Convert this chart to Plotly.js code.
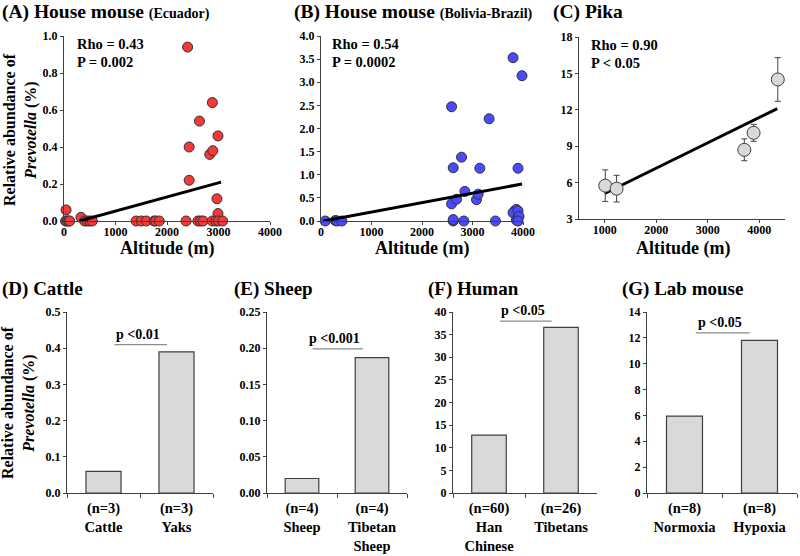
<!DOCTYPE html>
<html>
<head>
<meta charset="utf-8">
<script src="https://cdn.plot.ly/plotly-3.0.1.min.js"></script>
<style>html,body{margin:0;padding:0;background:#fff;}#chart{width:800px;height:556px;}</style>
</head>
<body>
<div id="chart"></div>
<script>
// ---------- Panel A: House mouse (Ecuador) ----------
const ecuadorAlt = [40, 30, 60, 90, 110, 330, 400, 450, 500, 550, 1400, 1500, 1600, 1750, 1780, 1850,
  2370, 2400, 2430, 2430, 2600, 2650, 2700, 2630, 2880, 2830, 2890, 2990, 2970, 2990, 2880, 2950, 3000, 3080];
const ecuadorVal = [0.06, 0, 0, 0, 0, 0.02, 0, 0, 0, 0, 0, 0, 0, 0, 0, 0,
  0, 0.94, 0.40, 0.22, 0, 0, 0, 0.54, 0.64, 0.36, 0.38, 0.46, 0.12, 0.04, 0, 0, 0, 0];
const fitAx = [300, 3050];
const fitAy = [0.0, 0.21];

// ---------- Panel B: House mouse (Bolivia-Brazil) ----------
const boliviaAlt = [85, 283, 316, 414, 2586, 2618, 2586, 2618, 2618, 2684, 2783, 2849, 2829, 3145, 3079, 3112,
  3329, 3454, 3803, 3980, 3901, 3836, 3868, 3803, 3868, 3901, 3901, 3921, 3901];
const boliviaVal = [0, 0.01, 0, 0, 2.47, 1.15, 0.37, 0, 0.03, 0.47, 1.38, 0.64, 0, 1.14, 0.46, 0.58,
  2.21, 0, 3.53, 3.14, 1.14, 0.22, 0.25, 0.18, 0.02, 0.22, 0.08, 0.10, 0];
const fitBx = [50, 3980];
const fitBy = [0.0, 0.80];

// ---------- Panel C: Pika ----------
const pikaAlt = [1010, 1230, 3710, 3890, 4360];
const pikaVal = [5.75, 5.5, 8.7, 10.1, 14.5];
const pikaErr = [1.3, 1.1, 0.9, 0.7, 1.8];
const fitCx = [1000, 4350];
const fitCy = [5.1, 12.1];

// ---------- Bar panels ----------
const cattleCats = ["Cattle", "Yaks"];
const cattleN = ["(n=3)", "(n=3)"];
const cattleLbl = ["Cattle", "Yaks"];
const cattleVal = [0.06, 0.39];

const sheepCats = ["Sheep", "Tibetan Sheep"];
const sheepN = ["(n=4)", "(n=4)"];
const sheepLbl = ["Sheep", "Tibetan<br>Sheep"];
const sheepVal = [0.02, 0.187];

const humanCats = ["Han Chinese", "Tibetans"];
const humanN = ["(n=60)", "(n=26)"];
const humanLbl = ["Han<br>Chinese", "Tibetans"];
const humanVal = [12.8, 36.6];

const labCats = ["Normoxia", "Hypoxia"];
const labN = ["(n=8)", "(n=8)"];
const labLbl = ["Normoxia", "Hypoxia"];
const labVal = [5.95, 11.8];

const sigText = ["p <0.01", "p <0.001", "p <0.05", "p <0.05"];
const sigLevel = [0.41, 0.199, 38.0, 12.38];

// ---------- helpers ----------
const W = 800, H = 556;
const FONT = "'Liberation Serif', 'Times New Roman', Times, serif";
const AX = "#404040";
const px = v => v / W;
const py = v => 1 - v / H;

function axBase(extra) {
  return Object.assign({
    showline: true, linecolor: AX, linewidth: 1, ticks: "outside", ticklen: 3,
    tickcolor: AX, tickwidth: 1, showgrid: false, zeroline: false,
    tickfont: {family: FONT, size: 12, color: "#000", weight: "bold"},
    fixedrange: true
  }, extra);
}

const traces = [];
const markerLine = {color: "#333", width: 1};

traces.push({type: "scatter", mode: "markers", x: ecuadorAlt, y: ecuadorVal, xaxis: "x", yaxis: "y",
  marker: {size: 10, color: "#f23a3a", line: markerLine}, cliponaxis: false});
traces.push({type: "scatter", mode: "lines", x: fitAx, y: fitAy, xaxis: "x", yaxis: "y",
  line: {color: "#000", width: 3}, cliponaxis: false});

traces.push({type: "scatter", mode: "markers", x: boliviaAlt, y: boliviaVal, xaxis: "x2", yaxis: "y2",
  marker: {size: 10, color: "#4a4aff", line: markerLine}, cliponaxis: false});
traces.push({type: "scatter", mode: "lines", x: fitBx, y: fitBy, xaxis: "x2", yaxis: "y2",
  line: {color: "#000", width: 3}, cliponaxis: false});

traces.push({type: "scatter", mode: "lines", x: fitCx, y: fitCy, xaxis: "x3", yaxis: "y3",
  line: {color: "#000", width: 3}, cliponaxis: false});
traces.push({type: "scatter", mode: "markers", x: pikaAlt, y: pikaVal, xaxis: "x3", yaxis: "y3",
  error_y: {type: "data", array: pikaErr, visible: true, color: "#404040", thickness: 1, width: 3},
  marker: {size: 13, color: "#d9d9d9", line: {color: "#404040", width: 1}}, cliponaxis: false});

const barSets = [
  [cattleCats, cattleVal, cattleN, cattleLbl],
  [sheepCats, sheepVal, sheepN, sheepLbl],
  [humanCats, humanVal, humanN, humanLbl],
  [labCats, labVal, labN, labLbl]
];
barSets.forEach((s, i) => {
  const k = i + 4;
  traces.push({type: "bar", x: s[0], y: s[1], xaxis: "x" + k, yaxis: "y" + k, width: 0.48,
    marker: {color: "#d9d9d9", line: {color: "#404040", width: 1.2}}});
});

const layout = {
  width: W, height: H, margin: {l: 0, r: 0, t: 0, b: 0},
  paper_bgcolor: "#fff", plot_bgcolor: "rgba(0,0,0,0)",
  showlegend: false, font: {family: FONT, color: "#000"},
  xaxis: axBase({domain: [px(64), px(270)], range: [0, 4000], dtick: 1000, anchor: "y", ticklabelstandoff: -3}),
  yaxis: axBase({domain: [py(221), py(36)], range: [0, 1.0], dtick: 0.2, tickformat: ".1f", anchor: "x"}),
  xaxis2: axBase({domain: [px(321), px(523)], range: [0, 4000], dtick: 1000, anchor: "y2", ticklabelstandoff: -3}),
  yaxis2: axBase({domain: [py(221), py(36)], range: [0, 4.0], dtick: 0.5, tickformat: ".1f", anchor: "x2"}),
  xaxis3: axBase({domain: [px(579), px(785)], range: [500, 4500], dtick: 1000, anchor: "y3", ticklabelstandoff: -3}),
  yaxis3: axBase({domain: [py(219), py(37)], range: [3, 18], dtick: 3, anchor: "x3"}),
  annotations: [], shapes: []
};

const barDomains = [[67, 213], [267, 407], [453, 597], [647, 797]];
const barRanges = [[0, 0.5, 0.1, ".1f"], [0, 0.25, 0.05, ".2f"], [0, 40, 5, "d"], [0, 14, 2, "d"]];
barSets.forEach((s, i) => {
  const k = i + 4;
  layout["xaxis" + k] = axBase({domain: [px(barDomains[i][0]), px(barDomains[i][1])], anchor: "y" + k,
    type: "category", range: [-0.5, 1.5], tickson: "boundaries", ticklen: 4, tickangle: 0,
    ticklabelstandoff: 2,
    tickvals: s[0], ticktext: s[0].map((c, j) => s[2][j] + "<br>" + s[3][j]),
    tickfont: {family: FONT, size: 14.5, color: "#000", weight: "bold"}});
  layout["yaxis" + k] = axBase({domain: [py(493), py(312)], anchor: "x" + k,
    range: [barRanges[i][0], barRanges[i][1]], dtick: barRanges[i][2], tickformat: barRanges[i][3]});
  layout.shapes.push({type: "line", xref: "x" + k, yref: "y" + k, x0: 0.15, x1: 0.87,
    y0: sigLevel[i], y1: sigLevel[i], line: {color: "#8c8c8c", width: 1.2}});
  layout.annotations.push({xref: "x" + k, yref: "y" + k, x: 0.47, y: sigLevel[i], yanchor: "bottom",
    yshift: 1, showarrow: false, text: "<b>" + sigText[i] + "</b>", font: {family: FONT, size: 14, color: "#000"}});
});

function ann(x, y, text, size, opts) {
  layout.annotations.push(Object.assign({xref: "paper", yref: "paper", x: px(x), y: py(y), text: text,
    showarrow: false, xanchor: "left", yanchor: "middle", font: {family: FONT, size: size, color: "#000"}}, opts || {}));
}

// Panel titles
ann(0, 12, "<b>(A) House mouse <span style='font-size:14px'>(Ecuador)</span></b>", 19.5);
ann(292, 12, "<b>(B) House mouse <span style='font-size:14px'>(Bolivia-Brazil)</span></b>", 19.5);
ann(551, 12, "<b>(C) Pika</b>", 19.5);
ann(0, 289, "<b>(D) Cattle</b>", 19);
ann(232, 289, "<b>(E) Sheep</b>", 19);
ann(426, 289, "<b>(F) Human</b>", 19);
ann(620, 289, "<b>(G) Lab mouse</b>", 19);

// Stats
ann(75, 44, "<b>Rho = 0.43</b>", 14.5);
ann(75, 62, "<b>P = 0.002</b>", 14.5);
ann(330, 44, "<b>Rho = 0.54</b>", 14.5);
ann(330, 62, "<b>P = 0.0002</b>", 14.5);
ann(589, 45, "<b>Rho = 0.90</b>", 14.5);
ann(589, 63, "<b>P &lt; 0.05</b>", 14.5);

// Axis titles
ann(167, 248, "<b>Altitude (m)</b>", 18, {xanchor: "center"});
ann(422, 248, "<b>Altitude (m)</b>", 18, {xanchor: "center"});
ann(683, 248, "<b>Altitude (m)</b>", 18, {xanchor: "center"});
ann(20, 130, "<b>Relative abundance of<br><i>Prevotella</i> (%)</b>", 16, {xanchor: "center", textangle: -90});
ann(18, 403, "<b>Relative abundance of<br><i>Prevotella</i> (%)</b>", 16, {xanchor: "center", textangle: -90});

Plotly.newPlot("chart", traces, layout, {displayModeBar: false, staticPlot: true});
</script>
</body>
</html>
